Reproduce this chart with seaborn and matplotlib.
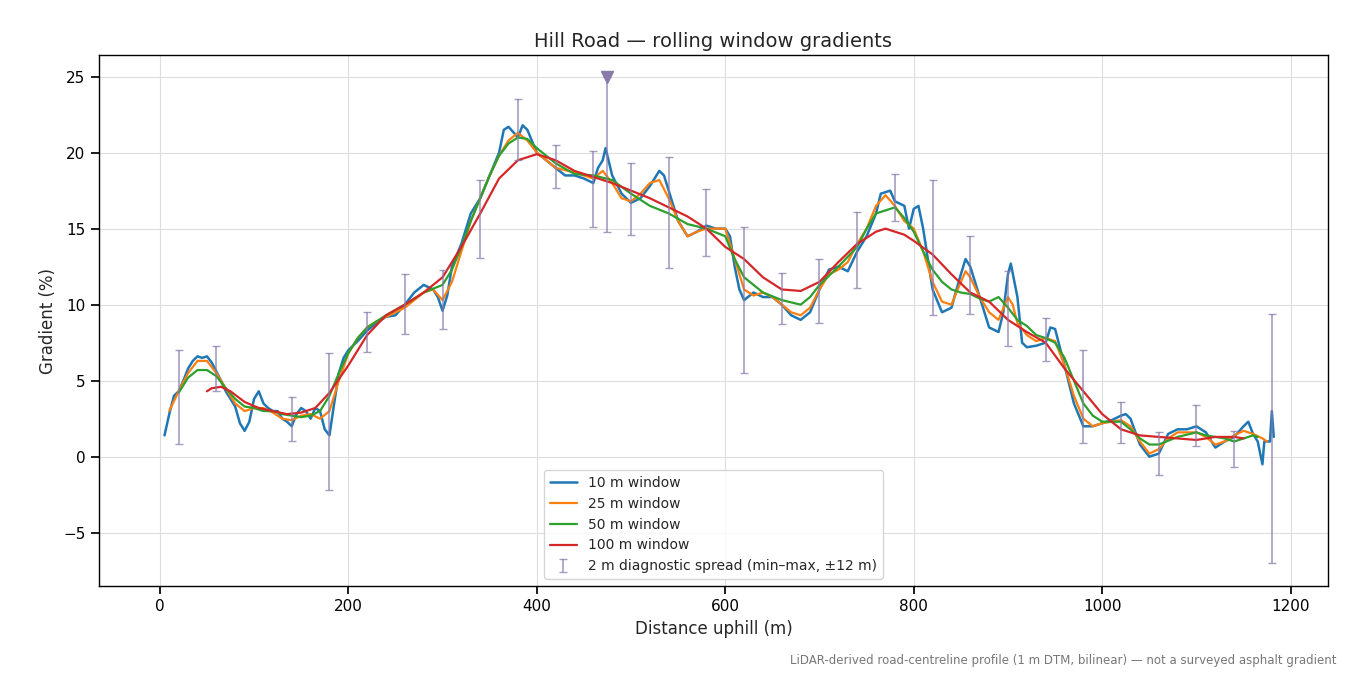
import numpy as np
import matplotlib
matplotlib.use("Agg")
import matplotlib.pyplot as plt
import seaborn as sns

# 10 m window
x10 = [5, 10, 15, 20, 25, 30, 35, 40, 45, 50, 55, 60, 65, 70, 75, 80, 85, 90, 95, 100,
       105, 110, 115, 120, 125, 130, 135, 140, 145, 150, 155, 160, 165, 170, 175, 180, 185, 190, 195, 200,
       210, 220, 230, 240, 250, 260, 270, 280, 290, 295, 300, 305, 310, 320, 330, 340, 350, 360, 365, 370,
       380, 385, 390, 400, 410, 420, 430, 440, 450, 460, 465, 470, 473, 480, 490, 500, 510, 520, 530, 535,
       540, 550, 560, 570, 580, 590, 600, 605, 610, 615, 620, 630, 640, 650, 660, 670, 680, 690, 700, 710,
       720, 730, 740, 750, 760, 765, 775, 780, 790, 795, 800, 805, 810, 820, 830, 840, 850, 855, 860, 870,
       880, 890, 895, 900, 903, 910, 915, 920, 930, 940, 945, 950, 960, 970, 980, 990, 1000, 1010, 1020, 1025,
       1030, 1040, 1050, 1060, 1070, 1080, 1090, 1100, 1110, 1120, 1130, 1140, 1150, 1155, 1160, 1165, 1170, 1172, 1178, 1180, 1182]
g10 = [1.4, 2.8, 4.0, 4.3, 5.0, 5.8, 6.3, 6.6, 6.5, 6.6, 6.2, 5.6, 5.0, 4.3, 3.8, 3.3, 2.2, 1.7, 2.3, 3.8,
       4.3, 3.5, 3.2, 3.0, 3.0, 2.5, 2.3, 2.0, 2.8, 3.2, 3.0, 2.5, 3.2, 3.0, 1.8, 1.4, 3.5, 5.5, 6.5, 7.0,
       7.6, 8.3, 8.8, 9.2, 9.3, 10.0, 10.8, 11.3, 11.0, 10.5, 9.6, 10.6, 12.5, 14.0, 16.0, 17.0, 18.5, 20.0, 21.5, 21.7,
       21.0, 21.8, 21.5, 20.0, 19.5, 19.0, 18.5, 18.5, 18.3, 18.0, 19.0, 19.5, 20.3, 18.5, 17.3, 16.7, 17.0, 17.8, 18.8, 18.5,
       17.5, 15.5, 14.5, 14.8, 15.2, 15.0, 15.0, 14.5, 12.5, 11.0, 10.3, 10.8, 10.5, 10.5, 10.0, 9.3, 9.0, 9.5, 11.0, 12.3,
       12.5, 12.2, 13.5, 14.5, 16.0, 17.3, 17.5, 16.8, 16.5, 15.0, 16.3, 16.5, 15.0, 11.0, 9.5, 9.8, 12.0, 13.0, 12.5, 10.5,
       8.5, 8.2, 9.5, 12.0, 12.7, 10.5, 7.5, 7.2, 7.3, 7.5, 8.5, 8.4, 6.0, 3.5, 2.0, 2.0, 2.2, 2.4, 2.7, 2.8,
       2.5, 0.8, 0.0, 0.2, 1.5, 1.8, 1.8, 2.0, 1.6, 0.6, 1.0, 1.3, 2.0, 2.3, 1.5, 1.0, -0.5, 1.0, 1.0, 3.0, 1.3]

# 25 m window
x25 = [10, 20, 30, 40, 50, 60, 70, 80, 90, 100, 110, 120, 130, 140, 150, 160, 170, 180, 190, 200,
       210, 220, 230, 240, 260, 280, 290, 300, 310, 320, 330, 340, 350, 360, 370, 380, 390, 400, 420, 440,
       460, 470, 480, 490, 500, 510, 520, 530, 540, 550, 560, 570, 580, 600, 610, 620, 630, 640, 650, 660,
       670, 680, 690, 700, 710, 720, 730, 740, 750, 760, 770, 780, 790, 800, 810, 820, 830, 840, 850, 855,
       860, 870, 880, 890, 900, 905, 910, 920, 930, 940, 950, 960, 970, 980, 990, 1000, 1010, 1020, 1030, 1040,
       1050, 1060, 1070, 1080, 1090, 1100, 1110, 1120, 1130, 1140, 1150, 1160, 1170, 1175]
g25 = [3.0, 4.3, 5.5, 6.3, 6.3, 5.5, 4.5, 3.5, 3.0, 3.2, 3.2, 2.9, 2.5, 2.4, 2.7, 2.8, 2.5, 3.0, 5.0, 6.8,
       7.8, 8.5, 8.9, 9.2, 9.8, 10.8, 11.0, 10.3, 11.5, 13.5, 15.5, 17.0, 18.5, 19.8, 20.8, 21.3, 20.8, 20.0, 19.0, 18.7,
       18.3, 18.8, 18.0, 17.0, 16.8, 17.3, 18.0, 18.2, 17.0, 15.5, 14.5, 14.8, 15.0, 15.0, 13.0, 11.0, 10.6, 10.8, 10.5, 10.0,
       9.5, 9.3, 9.8, 11.0, 12.0, 12.3, 12.8, 14.0, 15.0, 16.5, 17.2, 16.5, 15.5, 15.0, 13.5, 11.5, 10.2, 10.0, 11.5, 12.2,
       11.8, 10.5, 9.5, 9.0, 10.5, 10.0, 8.8, 8.0, 7.6, 7.8, 7.6, 6.0, 4.0, 2.5, 2.0, 2.2, 2.3, 2.4, 2.0, 1.0,
       0.2, 0.5, 1.2, 1.6, 1.6, 1.6, 1.3, 0.8, 1.0, 1.4, 1.7, 1.5, 1.2, 1.0]

# 50 m window
x50 = [20, 30, 40, 50, 60, 70, 80, 90, 100, 110, 120, 130, 140, 150, 160, 170, 180, 190, 200, 210,
       220, 240, 260, 280, 300, 310, 320, 330, 340, 350, 360, 370, 380, 390, 400, 420, 440, 460, 480, 500,
       520, 540, 560, 580, 600, 610, 620, 640, 660, 680, 690, 700, 720, 740, 750, 760, 770, 780, 790, 800,
       810, 820, 830, 840, 850, 860, 870, 880, 890, 900, 910, 920, 930, 940, 950, 960, 970, 980, 990, 1000,
       1020, 1030, 1040, 1050, 1060, 1080, 1100, 1110, 1120, 1130, 1140, 1150, 1160, 1165]
g50 = [4.2, 5.2, 5.7, 5.7, 5.3, 4.5, 3.8, 3.3, 3.2, 3.0, 3.0, 2.8, 2.7, 2.6, 2.7, 3.0, 4.0, 5.5, 6.8, 7.8,
       8.5, 9.3, 10.0, 10.8, 11.3, 12.3, 13.8, 15.5, 17.0, 18.5, 19.8, 20.6, 21.0, 20.9, 20.3, 19.3, 18.6, 18.5, 18.2, 17.3,
       16.5, 16.0, 15.3, 15.0, 14.5, 13.0, 11.8, 10.8, 10.3, 10.0, 10.5, 11.3, 12.5, 13.8, 15.0, 16.0, 16.2, 16.4, 15.7, 14.8,
       13.5, 12.3, 11.5, 11.0, 10.8, 10.7, 10.4, 10.2, 10.5, 9.8, 9.0, 8.6, 8.0, 7.8, 7.5, 6.5, 5.0, 3.5, 2.7, 2.3,
       2.3, 1.8, 1.2, 0.8, 0.8, 1.3, 1.6, 1.4, 1.3, 1.2, 1.0, 1.2, 1.4, 1.3]

# 100 m window
x100 = [50, 55, 65, 75, 90, 105, 120, 135, 150, 165, 180, 200, 220, 240, 260, 280, 300, 320, 340, 360,
        380, 400, 420, 440, 460, 480, 500, 520, 540, 560, 580, 600, 620, 640, 660, 680, 700, 720, 740, 760,
        770, 790, 800, 820, 840, 860, 880, 900, 920, 940, 960, 980, 1000, 1020, 1040, 1060, 1080, 1100, 1120, 1140, 1150]
g100 = [4.3, 4.5, 4.6, 4.3, 3.6, 3.2, 3.0, 2.8, 2.9, 3.2, 4.2, 6.0, 8.0, 9.3, 10.0, 10.8, 11.8, 13.8, 16.0, 18.3,
        19.5, 19.9, 19.5, 18.8, 18.4, 18.0, 17.5, 17.0, 16.4, 15.8, 15.0, 13.8, 13.0, 11.8, 11.0, 10.9, 11.5, 12.8, 14.0, 14.8,
        15.0, 14.6, 14.2, 13.3, 12.0, 10.8, 10.2, 9.0, 8.2, 7.5, 5.8, 4.3, 2.8, 1.8, 1.4, 1.3, 1.2, 1.1, 1.3, 1.3, 1.2]

# 2 m diagnostic spread (min-max within +-12 m)
spread_x = [20, 60, 140, 180, 220, 260, 300, 340, 380, 420, 460, 475, 500, 540, 580, 620, 660, 700, 740, 780,
            820, 860, 900, 940, 980, 1020, 1060, 1100, 1140, 1180]
spread_min = [0.85, 4.3, 1.0, -2.2, 6.9, 8.1, 8.4, 13.1, 19.5, 17.7, 15.1, 14.8, 14.6, 12.4, 13.2, 5.5, 8.7, 8.8, 11.1, 15.5,
              9.3, 9.4, 7.3, 6.3, 0.9, 0.9, -1.2, 0.7, -0.7, -7.0]
spread_max = [7.0, 7.3, 3.9, 6.8, 9.5, 12.0, 12.3, 18.2, 23.5, 20.5, 20.1, 25.0, 19.3, 19.7, 17.6, 15.1, 12.1, 13.0, 16.1, 18.6,
              18.2, 14.5, 12.2, 9.1, 7.0, 3.6, 1.6, 3.4, 1.7, 9.4]
clipped_x = [475]
clipped_y = [25.0]

sns.set_theme(style="ticks")
plt.rcParams['font.family'] = ['DejaVu Sans']
fig, ax = plt.subplots(figsize=(13.5, 6.75), dpi=100)

pal = sns.color_palette("tab10")
sns.lineplot(x=x10, y=g10, ax=ax, color=pal[0], lw=1.8, label="10 m window")
sns.lineplot(x=x25, y=g25, ax=ax, color=pal[1], lw=1.6, label="25 m window")
sns.lineplot(x=x50, y=g50, ax=ax, color=pal[2], lw=1.6, label="50 m window")
sns.lineplot(x=x100, y=g100, ax=ax, color=pal[3], lw=1.6, label="100 m window")

smin = np.array(spread_min)
smax = np.array(spread_max)
mid = (smin + smax) / 2
spread_c = "#8a7aab"
ax.errorbar(spread_x, mid, yerr=[mid - smin, smax - mid], fmt="none", ecolor=spread_c,
            alpha=0.75, elinewidth=1.2, capsize=3, label="2 m diagnostic spread (min\u2013max, \u00b112 m)")
ax.plot(clipped_x, clipped_y, marker="v", color=spread_c, ms=8, ls="none")

ax.set_xlim(-65, 1240)
ax.set_ylim(-8.5, 26.4)
ax.set_yticks([-5, 0, 5, 10, 15, 20, 25])
ax.grid(True, color="#dddddd", lw=0.8)
for s in ax.spines.values():
    s.set_color("black")
    s.set_linewidth(1.0)
ax.tick_params(colors="black", labelsize=11)
ax.set_title("Hill Road \u2014 rolling window gradients", fontsize=14)
ax.set_xlabel("Distance uphill (m)", fontsize=12)
ax.set_ylabel("Gradient (%)", fontsize=12)
ax.legend(loc="lower center", fontsize=10, frameon=True, edgecolor="#cccccc")
fig.text(0.99, 0.012, "LiDAR-derived road-centreline profile (1 m DTM, bilinear) \u2014 not a surveyed asphalt gradient",
         ha="right", va="bottom", fontsize=8.5, color="#777777")
plt.subplots_adjust(left=0.073, right=0.984, top=0.918, bottom=0.132)
fig.savefig("out.png", dpi=100)
